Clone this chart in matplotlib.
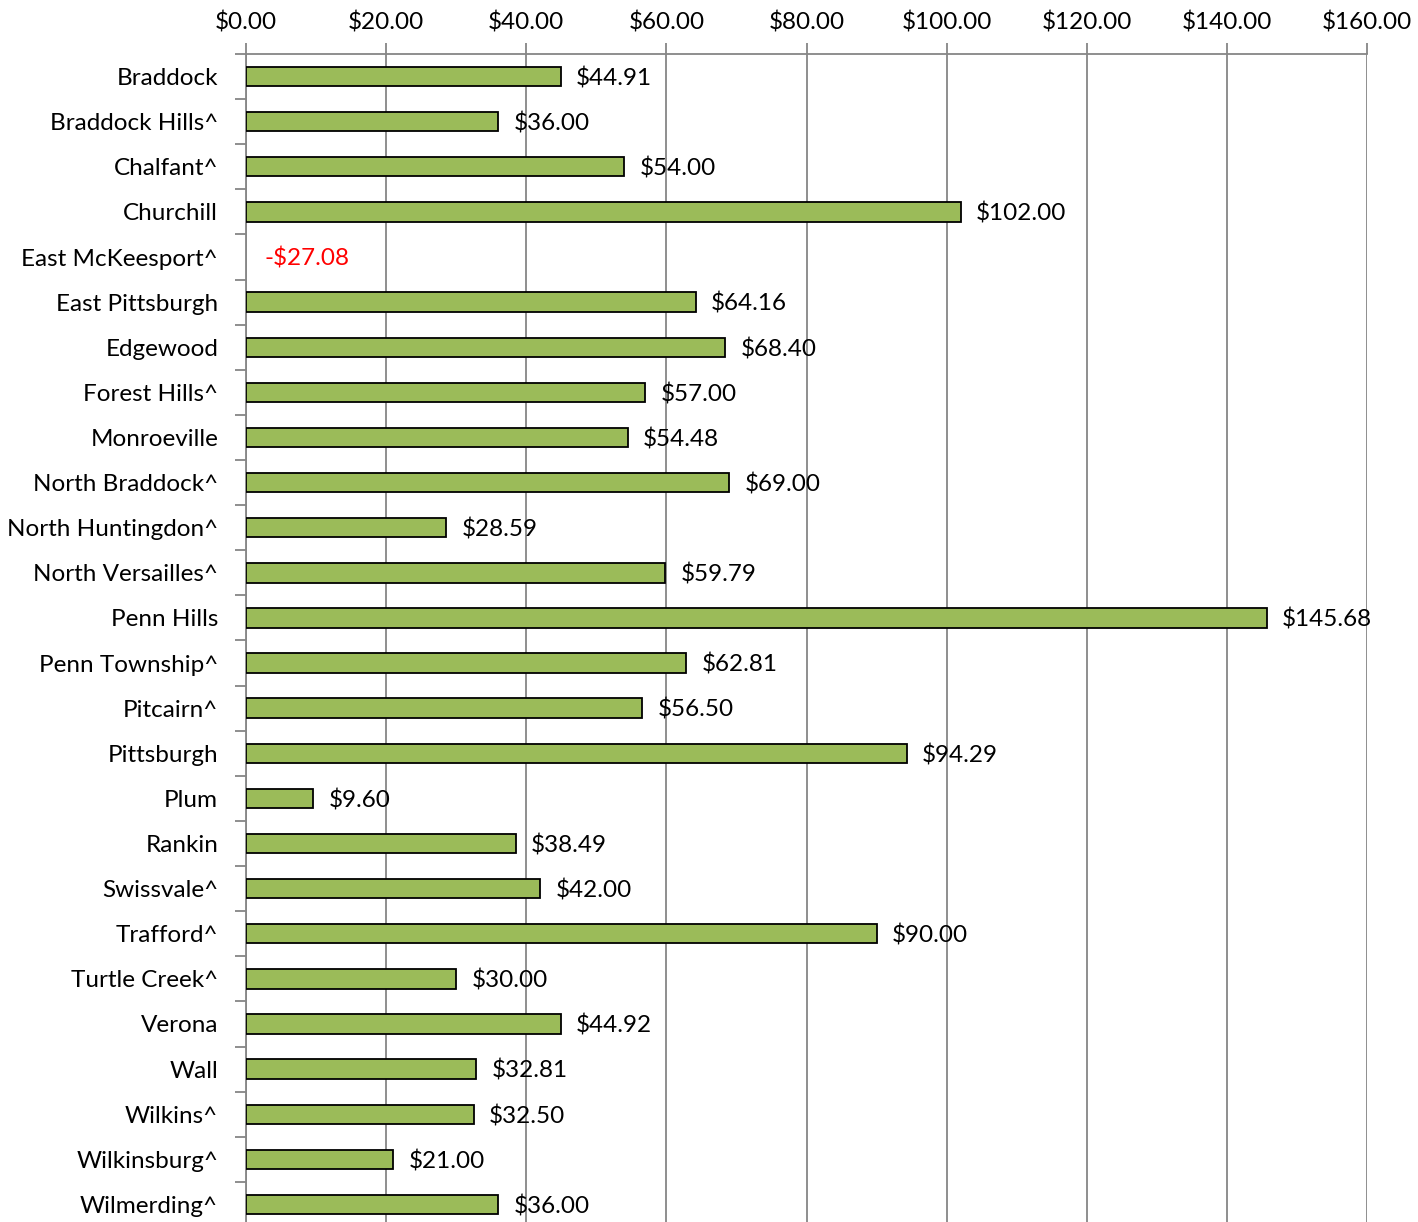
import matplotlib
matplotlib.use("Agg")
import matplotlib.pyplot as plt
from matplotlib.ticker import FixedLocator, FuncFormatter

categories = ["Braddock", "Braddock Hills^", "Chalfant^", "Churchill", "East McKeesport^",
              "East Pittsburgh", "Edgewood", "Forest Hills^", "Monroeville", "North Braddock^",
              "North Huntingdon^", "North Versailles^", "Penn Hills", "Penn Township^",
              "Pitcairn^", "Pittsburgh", "Plum", "Rankin", "Swissvale^", "Trafford^",
              "Turtle Creek^", "Verona", "Wall", "Wilkins^", "Wilkinsburg^", "Wilmerding^"]
values = [44.91, 36.00, 54.00, 102.00, -27.08, 64.16, 68.40, 57.00, 54.48, 69.00,
          28.59, 59.79, 145.68, 62.81, 56.50, 94.29, 9.60, 38.49, 42.00, 90.00,
          30.00, 44.92, 32.81, 32.50, 21.00, 36.00]
x_ticks = [0, 20, 40, 60, 80, 100, 120, 140, 160]

plt.rcParams['font.family'] = ['Lato', 'DejaVu Sans']

W, H = 1418, 1222
fig = plt.figure(figsize=(W / 100, H / 100), dpi=100)
left, right, top, bottom = 246, 1367, 54, 1227
ax = fig.add_axes([left / W, (H - bottom) / H, (right - left) / W, (bottom - top) / H])

n = len(categories)
ypos = list(range(n))
lws = [1.3 if v >= 0 else 0 for v in values]
ax.barh(ypos, values, height=0.43, color="#9BBB59", edgecolor="black", linewidth=lws, zorder=3)

ax.set_xlim(0, 160)
ax.set_ylim(n - 0.5, -0.5)

for y, v in zip(ypos, values):
    if v >= 0:
        ax.text(v + 2.2, y + 0.04, f"${v:.2f}", va="center", ha="left", fontsize=17.5, color="black", zorder=4)
    else:
        ax.text(2.6, y + 0.04, f"-${abs(v):.2f}", va="center", ha="left", fontsize=17.5, color="red", zorder=4)

ax.xaxis.tick_top()
ax.xaxis.set_major_locator(FixedLocator(x_ticks))
ax.xaxis.set_major_formatter(FuncFormatter(lambda x, p: f"${x:.2f}"))
ax.tick_params(axis="x", which="major", length=8, width=1.3, color="#868686", labelsize=17.5, pad=7)
ax.grid(axis="x", color="#868686", linewidth=1.3, zorder=0)

ax.set_yticks(ypos)
ax.set_yticklabels(categories, fontsize=17.5)
ax.set_yticks([i + 0.5 for i in range(-1, n)], minor=True)
ax.tick_params(axis="y", which="major", length=0, pad=20)
ax.tick_params(axis="y", which="minor", length=8, width=1.3, color="#868686")

for s in ["right", "bottom"]:
    ax.spines[s].set_visible(False)
ax.spines["top"].set_color("#868686")
ax.spines["top"].set_linewidth(1.3)
ax.spines["left"].set_color("#868686")
ax.spines["left"].set_linewidth(1.3)

fig.savefig("out.png", dpi=100)
